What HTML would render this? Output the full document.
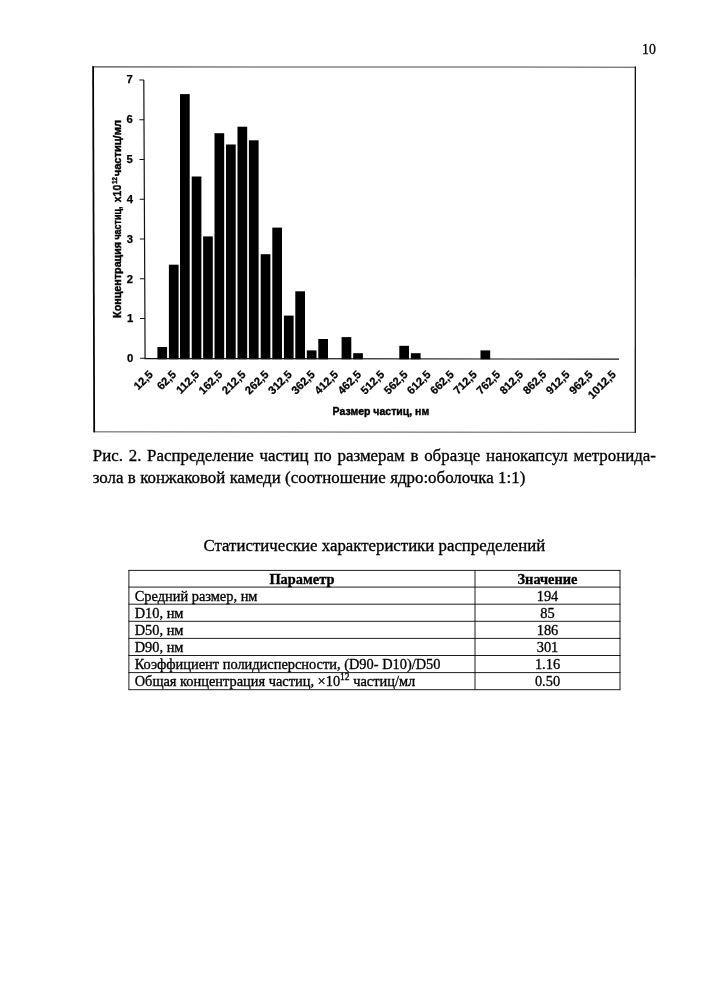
<!DOCTYPE html>
<html lang="ru"><head><meta charset="utf-8"><title>page 10</title>
<style>
html,body{margin:0;padding:0;background:#fff;}
body{width:707px;height:1000px;position:relative;overflow:hidden;font-family:"Liberation Serif",serif;color:#000;}
.t{position:absolute;white-space:nowrap;line-height:1;margin:0;}
.j{text-align:justify;text-align-last:justify;white-space:normal;}
.c{transform:translateY(-0.8375em) scaleX(var(--sx,1));transform-origin:0 0;-webkit-text-stroke:0.32px #000;}
.m{transform-origin:50% 0;}
sup{font-size:0.66em;line-height:0;vertical-align:0.6em;}
</style></head><body>
<svg width="707" height="1000" viewBox="0 0 707 1000" style="position:absolute;left:0;top:0"><path d="M92.4 66.85 L636 67.15" stroke="#4a4a4a" stroke-width="1.05" fill="none"/><path d="M93.4 431.85 L636 432.3" stroke="#555" stroke-width="1.0" fill="none"/><path d="M93.1 66.3 L94.2 432.3" stroke="#000" stroke-width="1.75" fill="none"/><path d="M635.35 66.6 L635.3 432.8" stroke="#111" stroke-width="1.3" fill="none"/><rect x="157.4" y="347.0" width="9.7" height="12.3" fill="#000"/><rect x="168.9" y="264.7" width="9.7" height="94.6" fill="#000"/><rect x="180.0" y="94.1" width="9.7" height="265.2" fill="#000"/><rect x="191.7" y="176.5" width="9.7" height="182.8" fill="#000"/><rect x="203.1" y="236.4" width="9.7" height="122.9" fill="#000"/><rect x="214.5" y="133.2" width="9.7" height="226.1" fill="#000"/><rect x="226.0" y="144.5" width="9.7" height="214.8" fill="#000"/><rect x="237.5" y="126.7" width="9.7" height="232.6" fill="#000"/><rect x="248.9" y="140.3" width="9.7" height="219.0" fill="#000"/><rect x="260.7" y="254.2" width="9.7" height="105.1" fill="#000"/><rect x="272.3" y="227.6" width="9.7" height="131.7" fill="#000"/><rect x="283.9" y="315.6" width="9.7" height="43.7" fill="#000"/><rect x="295.3" y="291.3" width="9.7" height="68.0" fill="#000"/><rect x="306.8" y="350.4" width="9.7" height="8.9" fill="#000"/><rect x="318.3" y="339.0" width="9.7" height="20.3" fill="#000"/><rect x="341.6" y="337.1" width="9.7" height="22.2" fill="#000"/><rect x="353.2" y="353.2" width="9.7" height="6.1" fill="#000"/><rect x="399.3" y="345.8" width="9.7" height="13.5" fill="#000"/><rect x="410.9" y="353.2" width="9.7" height="6.1" fill="#000"/><rect x="480.5" y="350.4" width="9.7" height="8.9" fill="#000"/><path d="M143.8 80 L145.1 359.3 M144.5 358.6 L619 359.1" stroke="#111" stroke-width="1.2" fill="none"/><path d="M139.3 80.0 H143.9 M139.4 119.8 H144.1 M139.5 159.5 H144.3 M139.7 199.2 H144.4 M139.8 239.0 H144.6 M139.9 278.8 H144.8 M140.0 318.5 H145.0 M140.1 358.2 H145.2 " stroke="#111" stroke-width="1.1" fill="none"/><g font-family="Liberation Sans, sans-serif" font-weight="bold" font-size="11.3" fill="#000" stroke="#000" stroke-width="0.25" text-anchor="end"><text x="132.8" y="83.4">7</text><text x="132.9" y="123.2">6</text><text x="132.9" y="163.1">5</text><text x="133.0" y="202.9">4</text><text x="133.0" y="242.8">3</text><text x="133.1" y="282.6">2</text><text x="133.2" y="322.4">1</text><text x="133.2" y="362.3">0</text></g><g font-family="Liberation Sans, sans-serif" font-weight="bold" font-size="11.2" fill="#000" stroke="#000" stroke-width="0.25" text-anchor="end"><text transform="translate(153.7 375.2) rotate(-45)">12,5</text><text transform="translate(176.8 375.2) rotate(-45)">62,5</text><text transform="translate(200.0 375.2) rotate(-45)">112,5</text><text transform="translate(223.1 375.2) rotate(-45)">162,5</text><text transform="translate(246.3 375.2) rotate(-45)">212,5</text><text transform="translate(269.4 375.2) rotate(-45)">262,5</text><text transform="translate(292.6 375.2) rotate(-45)">312,5</text><text transform="translate(315.7 375.2) rotate(-45)">362,5</text><text transform="translate(338.9 375.2) rotate(-45)">412,5</text><text transform="translate(362.0 375.2) rotate(-45)">462,5</text><text transform="translate(385.1 375.2) rotate(-45)">512,5</text><text transform="translate(408.3 375.2) rotate(-45)">562,5</text><text transform="translate(431.4 375.2) rotate(-45)">612,5</text><text transform="translate(454.6 375.2) rotate(-45)">662,5</text><text transform="translate(477.7 375.2) rotate(-45)">712,5</text><text transform="translate(500.9 375.2) rotate(-45)">762,5</text><text transform="translate(524.0 375.2) rotate(-45)">812,5</text><text transform="translate(547.2 375.2) rotate(-45)">862,5</text><text transform="translate(570.3 375.2) rotate(-45)">912,5</text><text transform="translate(593.5 375.2) rotate(-45)">962,5</text><text transform="translate(616.6 375.2) rotate(-45)">1012,5</text></g><g font-family="Liberation Sans, sans-serif" font-weight="bold" font-size="11.2" fill="#000" stroke="#000" stroke-width="0.4" lengthAdjust="spacingAndGlyphs"><text x="332.6" y="415" textLength="96.6" lengthAdjust="spacingAndGlyphs">Размер частиц, нм</text><text transform="translate(120.9 317.9) rotate(-90)" textLength="76.0" lengthAdjust="spacingAndGlyphs">Концентрация</text><text transform="translate(120.9 239.6) rotate(-90)" textLength="33.0" lengthAdjust="spacingAndGlyphs">частиц,</text><text transform="translate(120.9 202.2) rotate(-90)" textLength="17.4" lengthAdjust="spacingAndGlyphs">х10</text><text transform="translate(117.3 183.9) rotate(-90)" font-size="7.2" textLength="6.8" lengthAdjust="spacingAndGlyphs">12</text><text transform="translate(120.9 176.3) rotate(-90)" textLength="56.3" lengthAdjust="spacingAndGlyphs">частиц/мл</text></g></svg>
<div class="t c" id="pn" style="--sx:0.906;left:642.2px;top:54.1px;font-size:15.2px;">10</div>
<div class="t c j" id="c1" style="left:92.8px;top:462.3px;width:563.2px;font-size:16.9px;">Рис. 2. Распределение частиц по размерам в образце нанокапсул метронида-</div>
<div class="t c j" id="c2" style="left:92.8px;top:484.3px;width:432.5px;font-size:16.9px;">зола в конжаковой камеди (соотношение ядро:оболочка 1:1)</div>
<div class="t c j" id="h1" style="left:203.6px;top:552.2px;width:341.6px;font-size:16.8px;">Статистические характеристики распределений</div>
<svg width="707" height="1000" viewBox="0 0 707 1000" style="position:absolute;left:0;top:0"><path d="M128.4 570.4 H620.5 M128.4 587.1 H620.5 M128.4 604.2 H620.5 M128.4 621.3 H620.5 M128.4 638.4 H620.5 M128.4 655.5 H620.5 M128.4 672.6 H620.5 M128.4 689.7 H620.5 M128.9 570.0 V689.7 M475.0 570.0 V689.7 M620.0 570.0 V689.7 " stroke="#111" stroke-width="0.95" fill="none"/></svg><div class="t c m" style="--sx:1.0;left:128.9px;width:346.1px;text-align:center;top:583.7px;font-size:14.4px;font-weight:bold;">Параметр</div><div class="t c m" style="--sx:1.0;left:475.0px;width:145.0px;text-align:center;top:583.7px;font-size:14.4px;font-weight:bold;">Значение</div><div class="t c" style="--sx:1.0;left:134.7px;top:600.8px;font-size:14.4px;">Средний размер, нм</div><div class="t c m" style="--sx:1.0;left:475.0px;width:145.0px;text-align:center;top:600.8px;font-size:14.4px;">194</div><div class="t c" style="--sx:1.0;left:134.7px;top:617.9px;font-size:14.4px;">D10, нм</div><div class="t c m" style="--sx:1.0;left:475.0px;width:145.0px;text-align:center;top:617.9px;font-size:14.4px;">85</div><div class="t c" style="--sx:1.0;left:134.7px;top:635.0px;font-size:14.4px;">D50, нм</div><div class="t c m" style="--sx:1.0;left:475.0px;width:145.0px;text-align:center;top:635.0px;font-size:14.4px;">186</div><div class="t c" style="--sx:1.0;left:134.7px;top:652.1px;font-size:14.4px;">D90, нм</div><div class="t c m" style="--sx:1.0;left:475.0px;width:145.0px;text-align:center;top:652.1px;font-size:14.4px;">301</div><div class="t c" style="--sx:1.0;left:134.7px;top:669.2px;font-size:14.4px;">Коэффициент полидисперсности, (D90- D10)/D50</div><div class="t c m" style="--sx:1.0;left:475.0px;width:145.0px;text-align:center;top:669.2px;font-size:14.4px;">1.16</div><div class="t c" style="--sx:1.0;left:134.7px;top:686.3px;font-size:14.4px;">Общая концентрация частиц, ×10<sup>12</sup> частиц/мл</div><div class="t c m" style="--sx:1.0;left:475.0px;width:145.0px;text-align:center;top:686.3px;font-size:14.4px;">0.50</div>
</body></html>
